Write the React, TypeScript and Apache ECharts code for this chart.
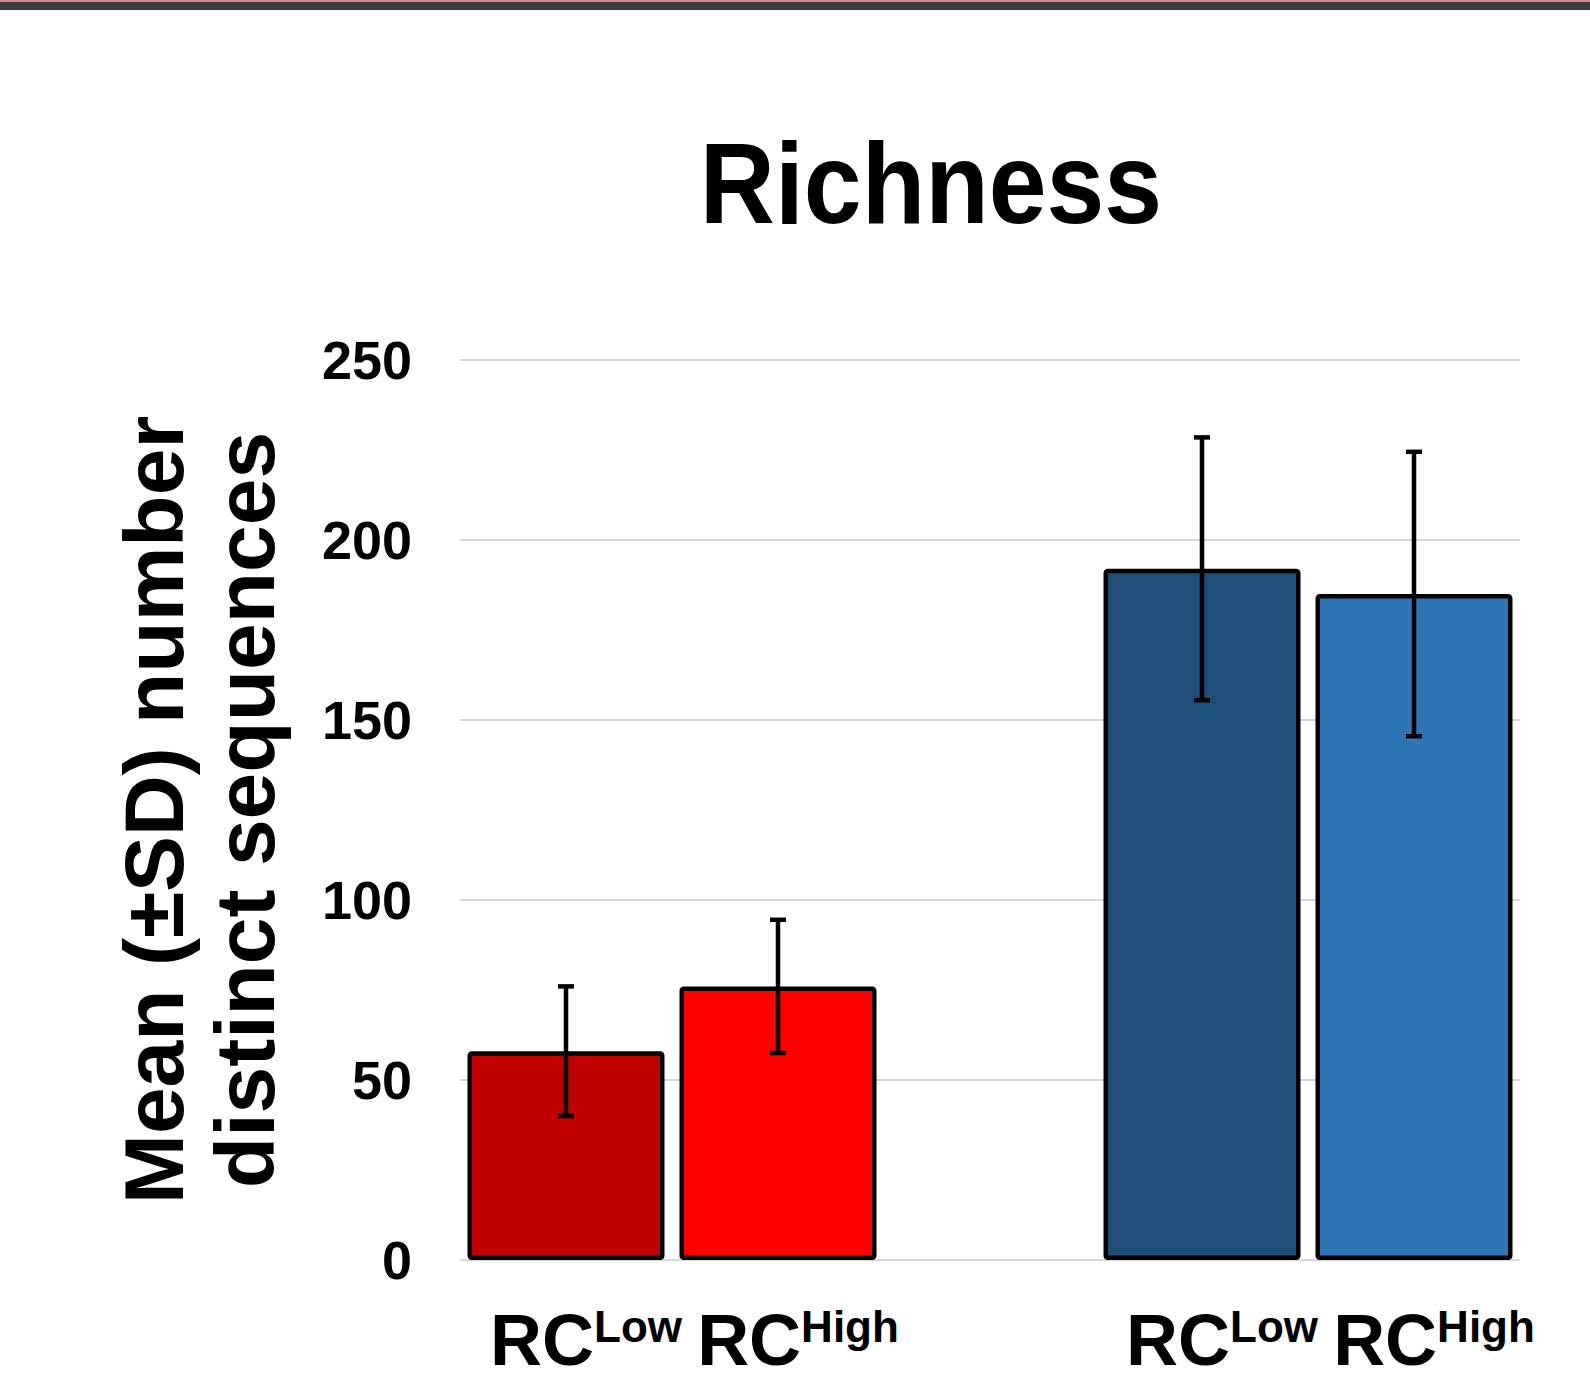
import React, { useEffect, useRef } from "react";
import * as echarts from "echarts";

// ---- data ----
const categories = ["RC Low", "RC High", "", "RC Low", "RC High"];
const means: (number | null)[] = [58, 76, null, 192, 185];
const sds: (number | null)[] = [18, 18.5, null, 36.5, 39.5];
const barColors = ["#C00000", "#FF0000", "transparent", "#1F4E79", "#2E75B6"];
const yMin = 0;
const yMax = 250;
const yInterval = 50;
const chartTitle = "Richness";
const yAxisName = "Mean (±SD) number\ndistinct sequences";

const SANS = "'Liberation Sans', Arial, sans-serif";

export default function App() {
  const ref = useRef<HTMLDivElement>(null);

  useEffect(() => {
    if (!ref.current) return;
    const chart = echarts.init(ref.current, undefined, { renderer: "svg" });

    const barData = means.map((v, i) =>
      v == null ? "-" : { value: v, itemStyle: { color: barColors[i] } }
    );
    const errData: number[][] = [];
    means.forEach((m, i) => {
      const s = sds[i];
      if (m != null && s != null) errData.push([i, m - s, m + s]);
    });

    const option: any = {
      animation: false,
      backgroundColor: "#ffffff",
      textStyle: { fontFamily: SANS },
      graphic: [
        { type: "rect", left: 0, top: 0, z: 100, shape: { width: 1590, height: 2 }, style: { fill: "#D9878A" } },
        { type: "rect", left: 0, top: 2, z: 100, shape: { width: 1590, height: 8 }, style: { fill: "#3D3D3D" } },
        {
          type: "text",
          x: 931,
          y: 183,
          scaleX: 1,
          scaleY: 1.1,
          z: 100,
          style: {
            text: chartTitle,
            x: 0,
            y: 0,
            align: "center",
            verticalAlign: "middle",
            fill: "#000",
            font: "bold 104px 'Liberation Sans', Arial, sans-serif",
          },
        },
      ],
      grid: { left: 460, right: 70, top: 360, bottom: 122, containLabel: false },
      xAxis: {
        type: "category",
        data: categories,
        axisLine: { show: false },
        axisTick: { show: false },
        axisLabel: {
          interval: 0,
          margin: 44,
          padding: [0, 0, 0, 40],
          formatter: (val: string) => {
            if (!val) return "";
            const [a, b] = val.split(" ");
            return `{a|${a}}{b|${b}}`;
          },
          rich: {
            a: { fontSize: 72, fontWeight: "bold", fontFamily: SANS, lineHeight: 72, color: "#000" },
            b: { fontSize: 44, fontWeight: "bold", fontFamily: SANS, lineHeight: 46, color: "#000", verticalAlign: "top" },
          },
        },
      },
      yAxis: {
        type: "value",
        min: yMin,
        max: yMax,
        interval: yInterval,
        name: yAxisName,
        nameLocation: "middle",
        nameRotate: 90,
        nameGap: 170,
        nameTextStyle: { fontSize: 84, fontWeight: "bold", color: "#000", lineHeight: 91, fontFamily: SANS },
        axisLine: { show: false },
        axisTick: { show: false },
        axisLabel: { fontSize: 54, fontWeight: "bold", color: "#000", margin: 48, fontFamily: SANS },
        splitLine: { show: true, lineStyle: { color: "#D9D9D9", width: 2 } },
      },
      series: [
        {
          type: "bar",
          data: barData,
          barWidth: 197,
          itemStyle: { borderColor: "#000", borderWidth: 4.5, borderRadius: 2 },
          z: 2,
        },
        {
          type: "custom",
          data: errData,
          encode: { x: 0, y: [1, 2] },
          z: 5,
          renderItem: (params: any, api: any) => {
            const x = api.value(0);
            const lo = api.coord([x, api.value(1)]);
            const hi = api.coord([x, api.value(2)]);
            const cx = lo[0];
            const cap = 8;
            const st = { stroke: "#000", lineWidth: 4.5 };
            return {
              type: "group",
              children: [
                { type: "line", shape: { x1: cx, y1: hi[1], x2: cx, y2: lo[1] }, style: st },
                { type: "line", shape: { x1: cx - cap, y1: hi[1], x2: cx + cap, y2: hi[1] }, style: st },
                { type: "line", shape: { x1: cx - cap, y1: lo[1], x2: cx + cap, y2: lo[1] }, style: st },
              ],
            };
          },
        },
      ],
    };

    chart.setOption(option);
    return () => chart.dispose();
  }, []);

  return (
    <div
      ref={ref}
      style={{ position: "absolute", left: 0, top: 0, width: 1590, height: 1382, background: "#fff" }}
    />
  );
}
